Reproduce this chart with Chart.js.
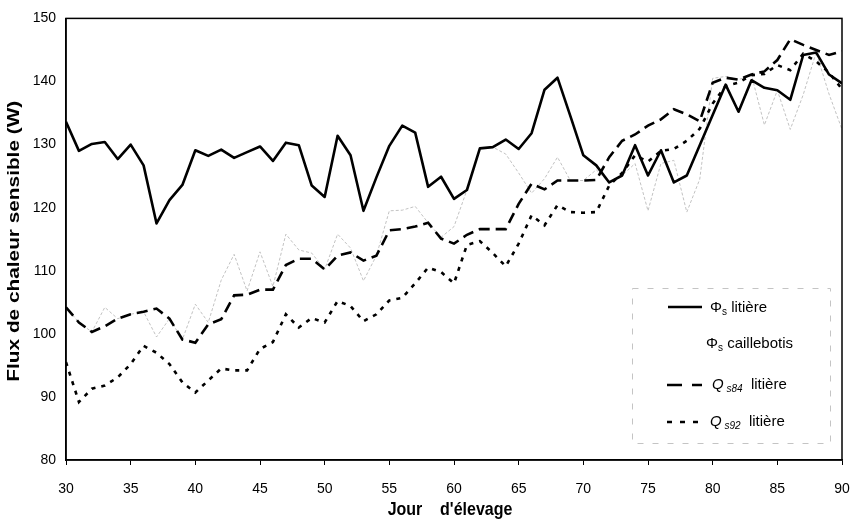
<!DOCTYPE html>
<html><head><meta charset="utf-8">
<script src="https://cdn.jsdelivr.net/npm/chart.js@4/dist/chart.umd.min.js"></script>
<style>html,body{margin:0;padding:0;background:#fff;}#wrap{width:851px;height:519px;}</style>
</head><body><div id="wrap"><canvas id="c" width="851" height="519"></canvas></div>
<script>
const days = [30,31,32,33,34,35,36,37,38,39,40,41,42,43,44,45,46,47,48,49,50,51,52,53,54,55,56,57,58,59,60,61,62,63,64,65,66,67,68,69,70,71,72,73,74,75,76,77,78,79,80,81,82,83,84,85,86,87,88,89,90];
const phiLitiere = [133.6,129.0,130.1,130.4,127.7,130.0,126.7,117.5,121.2,123.6,129.1,128.2,129.2,127.9,128.8,129.7,127.4,130.3,129.9,123.5,121.7,131.4,128.3,119.5,124.8,129.8,133.0,131.9,123.3,124.9,121.4,122.8,129.4,129.6,130.8,129.3,131.8,138.7,140.6,134.5,128.3,126.7,124.0,125.1,129.9,125.1,129.1,124.0,125.1,129.9,134.7,139.5,135.2,140.2,139.0,138.6,137.1,144.2,144.6,141.1,139.7];
const phiCaillebotis = [104.2,101.8,100.3,104.2,102.4,103.1,103.5,99.5,102.4,99.1,104.7,101.8,108.5,112.6,106.8,113.0,107.5,115.8,113.3,112.8,110.2,115.8,113.6,108.4,112.4,119.5,119.6,120.2,117.6,115.3,117.0,122.8,129.4,129.6,128.5,125.5,122.3,124.6,128.0,124.3,124.3,126.0,124.0,125.1,127.0,119.5,127.0,127.5,119.3,124.5,140.5,140.8,140.3,141.0,133.1,138.6,132.4,137.9,144.6,138.0,132.4];
const qs84Litiere = [104.2,101.8,100.3,101.2,102.4,103.1,103.5,104.0,102.4,99.1,98.6,101.5,102.3,106.1,106.2,107.0,107.0,110.9,111.9,111.9,110.2,112.4,112.9,111.6,112.4,116.4,116.6,117.0,117.6,115.1,114.3,115.7,116.6,116.6,116.6,120.6,123.8,122.9,124.3,124.3,124.3,124.4,128.0,130.6,131.6,133.0,134.0,135.6,134.8,133.7,139.8,140.6,140.3,141.1,141.6,143.4,146.7,145.8,145.0,144.2,144.8];
const qs92Litiere = [95.5,89.2,91.3,91.8,93.1,95.2,98.1,97.0,95.2,92.3,90.7,92.6,94.5,94.2,94.2,97.6,98.7,103.1,101.0,102.5,101.8,105.2,104.4,102.0,103.1,105.3,105.7,108.0,110.5,109.8,108.0,114.1,114.7,112.8,110.7,114.3,118.8,117.2,120.4,119.3,119.2,119.3,123.5,125.5,128.3,127.3,129.0,129.3,130.6,132.5,136.5,139.3,139.8,141.0,141.2,142.6,141.8,144.4,143.2,141.4,138.8];
const xTicks = [30,35,40,45,50,55,60,65,70,75,80,85,90];
const yTicks = [80,90,100,110,120,130,140,150];
const xTitle = "Jour    d'élevage";
const yTitle = "Flux de chaleur sensible (W)";

const pts = arr => days.map((d,i)=>({x:d,y:arr[i]}));
const FONT = "'Liberation Sans', Arial, sans-serif";

const decor = {
  id:'decor',
  afterDraw(chart){
    const ctx = chart.ctx, a = chart.chartArea;
    ctx.save();
    ctx.strokeStyle='#000'; ctx.lineWidth=1.5;
    ctx.strokeRect(a.left, a.top, a.right-a.left, a.bottom-a.top);
    ctx.fillStyle='#000';
    ctx.save();
    ctx.translate(19, (a.top+a.bottom)/2+2);
    ctx.rotate(-Math.PI/2);
    ctx.scale(1.3,1);
    ctx.font = "bold 16px "+FONT;
    ctx.textAlign='center'; ctx.textBaseline='alphabetic';
    ctx.fillText(yTitle,0,0);
    ctx.restore();
    ctx.save();
    ctx.translate(450, 515);
    ctx.scale(1,1.2);
    ctx.font = "bold 16px "+FONT;
    ctx.textAlign='center'; ctx.textBaseline='alphabetic';
    ctx.fillText(xTitle,0,0);
    ctx.restore();
    // legend
    ctx.save();
    ctx.strokeStyle='#c4c4c4'; ctx.lineWidth=1; ctx.setLineDash([6,9]);
    ctx.strokeRect(632.5,288.5,198,155);
    ctx.restore();
    ctx.save();
    ctx.strokeStyle='#000'; ctx.lineWidth=2.5;
    ctx.beginPath(); ctx.moveTo(668,307); ctx.lineTo(702,307); ctx.stroke();
    ctx.setLineDash([15,10]); ctx.lineCap='butt';
    ctx.beginPath(); ctx.moveTo(667,385); ctx.lineTo(702,385); ctx.stroke();
    ctx.setLineDash([5,8]);
    ctx.beginPath(); ctx.moveTo(667,422); ctx.lineTo(702,422); ctx.stroke();
    ctx.restore();
    const rows = [
      {x:710,y:312,main:'Φ',sub:'s',rest:' litière',it:false},
      {x:706,y:348,main:'Φ',sub:'s',rest:' caillebotis',it:false},
      {x:712,y:389,main:'Q',sub:' s84',rest:'  litière',it:true},
      {x:710,y:426,main:'Q',sub:' s92',rest:'  litière',it:true}
    ];
    ctx.textBaseline='alphabetic'; ctx.textAlign='left';
    rows.forEach(r=>{
      let x=r.x;
      ctx.font=(r.it?'italic ':'')+'15px '+FONT;
      ctx.fillText(r.main,x,r.y); x+=ctx.measureText(r.main).width;
      ctx.font=(r.it?'italic ':'')+'10px '+FONT;
      ctx.fillText(r.sub,x,r.y+3); x+=ctx.measureText(r.sub).width;
      ctx.font='15px '+FONT;
      ctx.fillText(r.rest,x,r.y);
    });
    ctx.restore();
  }
};

new Chart(document.getElementById('c'),{
  type:'line',
  data:{datasets:[
    {label:'Φs litière',data:pts(phiLitiere),borderColor:'#000',borderWidth:2.6,pointRadius:0,tension:0,order:1,borderJoinStyle:'round'},
    {label:'Φs caillebotis',data:pts(phiCaillebotis),borderColor:'#c2c2c2',borderWidth:1,borderDash:[3,2],pointRadius:0,tension:0,order:4},
    {label:'Qs84 litière',data:pts(qs84Litiere),borderColor:'#000',borderWidth:2.6,borderDash:[11,6],pointRadius:0,tension:0,order:2},
    {label:'Qs92 litière',data:pts(qs92Litiere),borderColor:'#000',borderWidth:2.6,borderDash:[4,6],pointRadius:0,tension:0,order:3}
  ]},
  options:{
    responsive:false,animation:false,devicePixelRatio:1,
    layout:{padding:{left:0,top:15,right:9,bottom:0}},
    plugins:{legend:{display:false},tooltip:{enabled:false}},
    scales:{
      x:{type:'linear',min:30,max:90,
        afterBuildTicks(s){s.ticks=xTicks.map(v=>({value:v}));},
        afterFit(s){s.height=59;s.paddingRight=0;s.paddingLeft=0;},
        ticks:{font:{family:FONT,size:14},color:'#000',padding:16},
        grid:{drawOnChartArea:false,color:'#000',tickLength:5,tickWidth:1},
        border:{color:'#000',width:1.5}},
      y:{min:80,max:150,
        afterBuildTicks(s){s.ticks=yTicks.map(v=>({value:v}));},
        afterFit(s){s.width=66;},
        ticks:{font:{family:FONT,size:14},color:'#000',padding:10},
        grid:{drawOnChartArea:false,drawTicks:false},
        border:{color:'#000',width:1.5}}
    }
  },
  plugins:[decor]
});
</script></body></html>
